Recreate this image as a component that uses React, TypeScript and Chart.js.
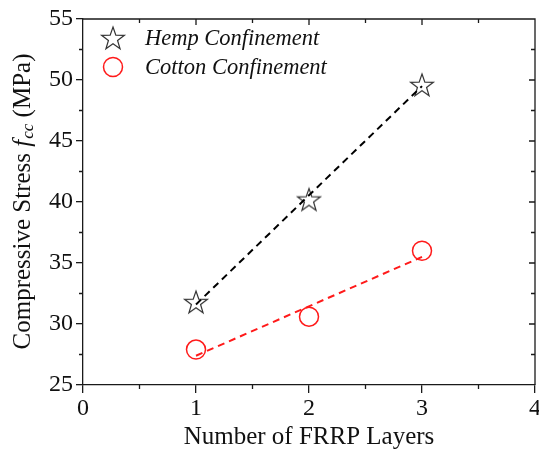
import React, { useEffect, useRef } from "react";
import { Chart, registerables } from "chart.js";

Chart.register(...registerables);

// FRRP layer counts and measured confined compressive stress (MPa)
const layers = [1, 2, 3];
const hempStress = [31.8, 40.2, 49.6];
const cottonStress = [27.9, 30.6, 36.0];

// Linear trend lines through each series
const fitLayers = [1, 3];
const hempFit = [31.6, 49.5];
const cottonFit = [27.4, 35.5];

const seriesNames = ["Hemp Confinement", "Cotton Confinement"];
const xTitle = "Number of FRRP Layers";

const X_MIN = 0;
const X_MAX = 4;
const Y_MIN = 25;
const Y_MAX = 55;

const SERIF = '"Liberation Serif", "Times New Roman", serif';
const AXIS = "#1a1a1a";
const RED = "#ff1a1a";
const STAR = "#333333";

function traceStar(ctx: CanvasRenderingContext2D, cx: number, cy: number, ro: number, ri: number) {
  ctx.beginPath();
  for (let i = 0; i < 10; i++) {
    const r = i % 2 === 0 ? ro : ri;
    const a = -Math.PI / 2 + (i * Math.PI) / 5;
    const px = cx + r * Math.cos(a);
    const py = cy + r * Math.sin(a);
    if (i === 0) ctx.moveTo(px, py);
    else ctx.lineTo(px, py);
  }
  ctx.closePath();
}

function makeStarImage(): HTMLCanvasElement {
  const size = 30;
  const c = document.createElement("canvas");
  c.width = size;
  c.height = size;
  const ctx = c.getContext("2d")!;
  ctx.strokeStyle = STAR;
  ctx.lineWidth = 1.2;
  ctx.lineJoin = "miter";
  traceStar(ctx, size / 2, size / 2 + 1, 12, 4.8);
  ctx.stroke();
  return c;
}

const framePlugin = {
  id: "frameAndLabels",
  afterDraw(chart: any) {
    const { ctx, chartArea } = chart;
    const { left, right, top, bottom } = chartArea;
    const xs = chart.scales.x;
    const ys = chart.scales.y;
    ctx.save();

    // top and right borders
    ctx.strokeStyle = AXIS;
    ctx.lineWidth = 1.3;
    ctx.beginPath();
    ctx.moveTo(left, top);
    ctx.lineTo(right, top);
    ctx.lineTo(right, bottom);
    ctx.stroke();

    // minor ticks (outside on bottom/left) and mirrored ticks (inside on top/right)
    ctx.beginPath();
    for (let v = X_MIN; v <= X_MAX + 1e-9; v += 0.5) {
      const px = xs.getPixelForValue(v);
      const major = Math.abs(v - Math.round(v)) < 1e-9;
      if (!major) {
        ctx.moveTo(px, bottom);
        ctx.lineTo(px, bottom + 4);
      }
      if (v > X_MIN && v < X_MAX) {
        ctx.moveTo(px, top);
        ctx.lineTo(px, top + (major ? 6 : 4));
      }
    }
    for (let v = Y_MIN; v <= Y_MAX + 1e-9; v += 2.5) {
      const py = ys.getPixelForValue(v);
      const major = Math.abs(v / 5 - Math.round(v / 5)) < 1e-9;
      if (!major) {
        ctx.moveTo(left, py);
        ctx.lineTo(left - 4, py);
      }
      if (v > Y_MIN && v < Y_MAX) {
        ctx.moveTo(right, py);
        ctx.lineTo(right - (major ? 6 : 4), py);
      }
    }
    ctx.stroke();

    // y axis title with italic f and subscript cc
    const parts = [
      { t: "Compressive Stress ", font: `25px ${SERIF}`, dy: 0 },
      { t: "f", font: `italic 25px ${SERIF}`, dy: 0 },
      { t: "cc", font: `italic 17px ${SERIF}`, dy: 6 },
      { t: " (MPa)", font: `25px ${SERIF}`, dy: 0 },
    ];
    let total = 0;
    const widths = parts.map((p) => {
      ctx.font = p.font;
      const w = ctx.measureText(p.t).width;
      total += w;
      return w;
    });
    ctx.translate(23, (top + bottom) / 2);
    ctx.rotate(-Math.PI / 2);
    ctx.fillStyle = "#111";
    ctx.textBaseline = "middle";
    ctx.textAlign = "left";
    let cx = -total / 2;
    parts.forEach((p, i) => {
      ctx.font = p.font;
      ctx.fillText(p.t, cx, p.dy);
      cx += widths[i] + (p.t === "f" ? 1 : 0);
    });
    ctx.setTransform(1, 0, 0, 1, 0, 0);

    // legend inside plot area
    const lx = left + 30;
    const ly1 = top + 19;
    const ly2 = top + 48;
    ctx.strokeStyle = STAR;
    ctx.lineWidth = 1.2;
    traceStar(ctx, lx, ly1 + 1, 12, 4.8);
    ctx.stroke();
    ctx.strokeStyle = RED;
    ctx.lineWidth = 1.5;
    ctx.beginPath();
    ctx.arc(lx, ly2, 9.5, 0, Math.PI * 2);
    ctx.stroke();
    ctx.fillStyle = "#111";
    ctx.font = `italic 22.5px ${SERIF}`;
    ctx.textBaseline = "middle";
    ctx.fillText(seriesNames[0], left + 62, ly1 + 1);
    ctx.fillText(seriesNames[1], left + 62, ly2 + 1);

    ctx.restore();
  },
};

export default function App() {
  const canvasRef = useRef<HTMLCanvasElement | null>(null);

  useEffect(() => {
    if (!canvasRef.current) return;
    const starImg = makeStarImage();

    const chart = new Chart(canvasRef.current, {
      type: "scatter",
      data: {
        datasets: [
          {
            label: seriesNames[0] + " fit",
            data: fitLayers.map((x, i) => ({ x, y: hempFit[i] })),
            showLine: true,
            borderColor: "#000",
            borderWidth: 2,
            borderDash: [7, 5],
            pointRadius: 0,
            fill: false,
          },
          {
            label: seriesNames[1] + " fit",
            data: fitLayers.map((x, i) => ({ x, y: cottonFit[i] })),
            showLine: true,
            borderColor: RED,
            borderWidth: 2,
            borderDash: [7, 5],
            pointRadius: 0,
            fill: false,
          },
          {
            label: seriesNames[0],
            data: layers.map((x, i) => ({ x, y: hempStress[i] })),
            pointStyle: starImg as any,
            pointRadius: 12,
          },
          {
            label: seriesNames[1],
            data: layers.map((x, i) => ({ x, y: cottonStress[i] })),
            pointStyle: "circle",
            pointRadius: 9.5,
            borderColor: RED,
            borderWidth: 1.5,
            backgroundColor: "rgba(0,0,0,0)",
          },
        ],
      },
      options: {
        animation: false,
        responsive: true,
        maintainAspectRatio: false,
        layout: { autoPadding: false, padding: { left: 0, right: 4, top: 19, bottom: 0 } },
        plugins: {
          legend: { display: false },
          tooltip: { enabled: false },
        },
        scales: {
          x: {
            type: "linear",
            min: X_MIN,
            max: X_MAX,
            ticks: {
              stepSize: 1,
              font: { family: SERIF, size: 24 },
              color: "#111",
              padding: 1,
              maxRotation: 0,
            },
            grid: {
              display: true,
              drawOnChartArea: false,
              drawTicks: true,
              tickLength: 8,
              color: AXIS,
              lineWidth: 1.3,
            },
            border: { display: true, color: AXIS, width: 1.3 },
            title: { display: false },
            afterFit: (s: any) => {
              s.height = 77;
              s.paddingLeft = 0;
              s.paddingRight = 0;
            },
          },
          y: {
            type: "linear",
            min: Y_MIN,
            max: Y_MAX,
            ticks: {
              stepSize: 5,
              font: { family: SERIF, size: 24 },
              color: "#111",
              padding: 3,
            },
            grid: {
              display: true,
              drawOnChartArea: false,
              drawTicks: true,
              tickLength: 7,
              color: AXIS,
              lineWidth: 1.3,
            },
            border: { display: true, color: AXIS, width: 1.3 },
            afterFit: (s: any) => {
              s.width = 83;
              s.paddingTop = 0;
              s.paddingBottom = 0;
            },
          },
        },
      },
      plugins: [
        framePlugin,
        {
          id: "xTitle",
          afterDraw(chart: any) {
            const { ctx, chartArea } = chart;
            ctx.save();
            ctx.font = `25px ${SERIF}`;
            ctx.fillStyle = "#111";
            ctx.textAlign = "center";
            ctx.textBaseline = "middle";
            ctx.fillText(xTitle, (chartArea.left + chartArea.right) / 2, 437);
            ctx.restore();
          },
        },
      ],
    });

    return () => chart.destroy();
  }, []);

  return (
    <div style={{ position: "fixed", left: 0, top: 0, width: 539, height: 462, background: "#fff" }}>
      <canvas ref={canvasRef} />
    </div>
  );
}
